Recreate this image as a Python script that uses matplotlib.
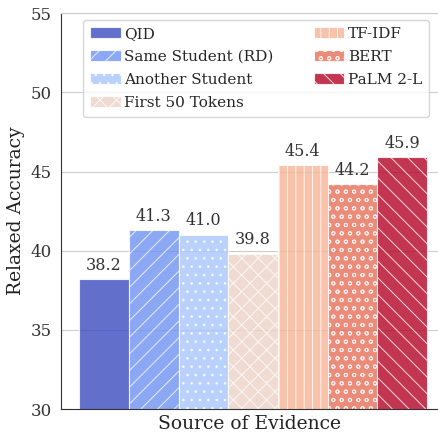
import matplotlib
matplotlib.use("Agg")
import matplotlib.pyplot as plt
import seaborn as sns

labels = ["QID", "Same Student (RD)", "Another Student", "First 50 Tokens",
          "TF-IDF", "BERT", "PaLM 2-L"]
values = [38.2, 41.3, 41.0, 39.8, 45.4, 44.2, 45.9]
hatches = ["", "//", "..", "xx", "||", "oo", "\\\\"]
cmap_pos = [0.0, 0.17, 0.33, 0.56, 0.68, 0.84, 1.0]

sns.set_style("whitegrid")
plt.rcParams["font.family"] = ["DejaVu Serif"]
plt.rcParams["hatch.color"] = "white"
plt.rcParams["hatch.linewidth"] = 0.7

cmap = plt.get_cmap("coolwarm")
colors = [cmap(p) for p in cmap_pos]

fig, ax = plt.subplots(figsize=(4.38, 4.38), dpi=100)
for i, (lab, v, h, c) in enumerate(zip(labels, values, hatches, colors)):
    ax.bar(i, v, width=1.0, color=c, hatch=h, edgecolor="white",
           linewidth=0.8, label=lab, alpha=0.8)
    ax.text(i, v + 0.35, f"{v:.1f}", ha="center", va="bottom", fontsize=11.5, color="#333333")

ax.set_ylim(30, 55)
ax.set_xlim(-0.86, 6.72)
ax.set_xticks([])
ax.set_yticks([30, 35, 40, 45, 50, 55])
ax.tick_params(axis="y", labelsize=12, colors="#333333")
ax.set_ylabel("Relaxed Accuracy", fontsize=13.5, color="#222222")
ax.set_xlabel("Source of Evidence", fontsize=13.5, color="#222222")
ax.grid(axis="x", visible=False)
ax.spines["right"].set_visible(False)
ax.spines["top"].set_color("#cccccc")
ax.spines["left"].set_color("#333333")
ax.spines["bottom"].set_color("#333333")

ax.legend(ncol=2, loc="upper left", bbox_to_anchor=(0.058, 0.982), borderaxespad=0,
          fontsize=11, handlelength=2.0, handletextpad=0.25, columnspacing=2.6,
          labelspacing=0.58, borderpad=0.45, frameon=True)

fig.subplots_adjust(left=0.14, right=1.0, top=0.97, bottom=0.066)
fig.savefig("out.png", dpi=100)
